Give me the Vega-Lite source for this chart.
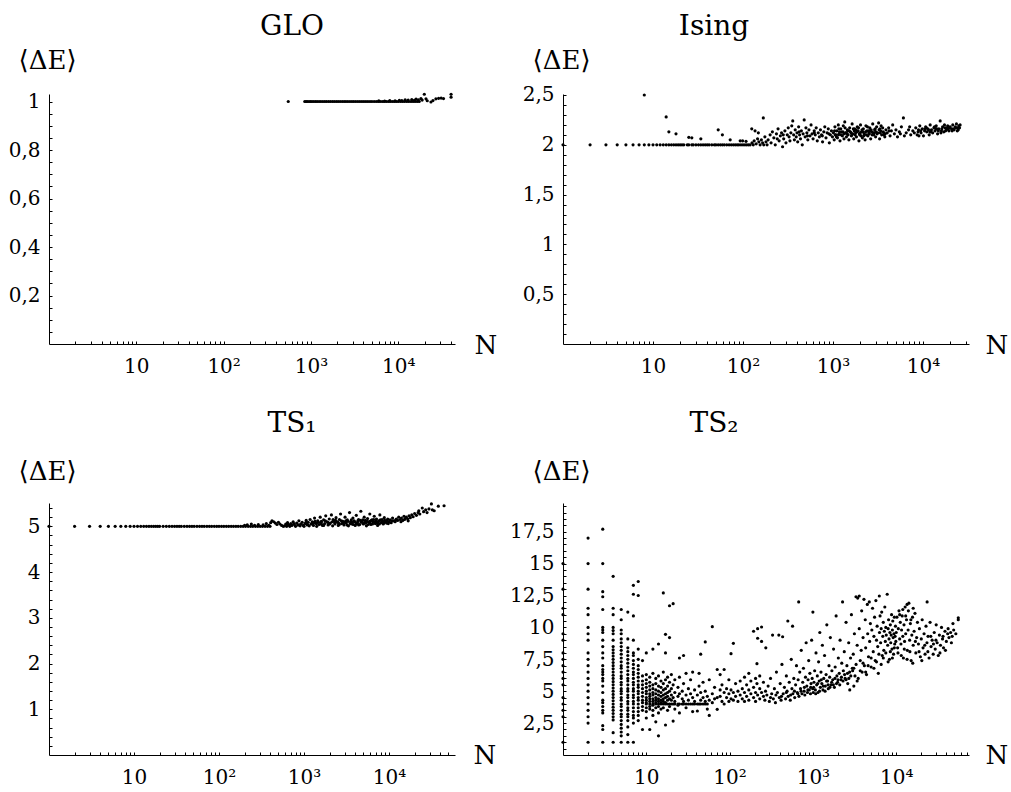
{
"$schema": "https://vega.github.io/schema/vega-lite/v6.json",
"padding": {"left": 8, "top": 13, "right": 5, "bottom": 5},
"autosize": {"type": "pad"},
"columns": 2,
"spacing": {"row": 159, "column": 108},
"bounds": "flush",
"config": {
  "font": "DejaVu Serif",
  "view": {"stroke": null},
  "axis": {"domainColor": "black", "tickColor": "black", "labelColor": "black", "titleColor": "black", "labelFont": "DejaVu Serif", "labelFontSize": 20, "titleFont": "DejaVu Serif", "titleFontSize": 26, "titleFontWeight": "normal", "grid": false, "labelOverlap": false, "labelFlush": false, "tickSize": -3, "domainWidth": 1, "tickWidth": 1, "labelPadding": 12},
  "axisX": {"titleAlign": "left", "titleBaseline": "alphabetic", "titleAngle": 0, "titleY": 9, "labelPadding": 15},
  "axisY": {"titleAlign": "center", "titleBaseline": "alphabetic", "titleAngle": 0, "titleX": -2, "titleY": -26, "labelBaseline": "middle"},
  "title": {"font": "DejaVu Serif", "fontSize": 28, "fontWeight": "normal", "color": "black", "frame": "group", "anchor": "middle", "offset": 6},
  "circle": {"size": 10, "color": "black", "opacity": 1}
},
"datasets": {
"glo": [{"n":550,"e":1},{"n":850,"e":1},{"n":880,"e":1},{"n":910,"e":1},{"n":950,"e":1},{"n":990,"e":1},{"n":1030,"e":1},{"n":1080,"e":1},{"n":1130,"e":1},{"n":1180,"e":1},{"n":1240,"e":1},{"n":1300,"e":1},{"n":1370,"e":1},{"n":1440,"e":1},{"n":1510,"e":1},{"n":1590,"e":1},{"n":1670,"e":1},{"n":1760,"e":1},{"n":1850,"e":1},{"n":1950,"e":1},{"n":2050,"e":1},{"n":2160,"e":1},{"n":2280,"e":1},{"n":2400,"e":1},{"n":2520,"e":1},{"n":2650,"e":1},{"n":2800,"e":1},{"n":2950,"e":1},{"n":3100,"e":1},{"n":3270,"e":1},{"n":3450,"e":1},{"n":3640,"e":1},{"n":3840,"e":1},{"n":4050,"e":1},{"n":4270,"e":1},{"n":4500,"e":1},{"n":4750,"e":1},{"n":5000,"e":1},{"n":5300,"e":1},{"n":5600,"e":1},{"n":5900,"e":1},{"n":6200,"e":1},{"n":6550,"e":1},{"n":6900,"e":1},{"n":7300,"e":1},{"n":7700,"e":1},{"n":8100,"e":1},{"n":8550,"e":1},{"n":9000,"e":1},{"n":9500,"e":1},{"n":10000,"e":1},{"n":10600,"e":1},{"n":11200,"e":1},{"n":11800,"e":1},{"n":12500,"e":1},{"n":13200,"e":1},{"n":14000,"e":1},{"n":14800,"e":1},{"n":15600,"e":1},{"n":16500,"e":1},{"n":17400,"e":1},{"n":6000,"e":1.003},{"n":7000,"e":1.002},{"n":8000,"e":1.004},{"n":9200,"e":1.003},{"n":10300,"e":1.005},{"n":11000,"e":1.004},{"n":12000,"e":1.007},{"n":13000,"e":1.006},{"n":14300,"e":1.008},{"n":15300,"e":1.005},{"n":16000,"e":1.01},{"n":17000,"e":1.007},{"n":18200,"e":1.012},{"n":18800,"e":1.006},{"n":19900,"e":1.03},{"n":20800,"e":1.011},{"n":21500,"e":1.003},{"n":23700,"e":0.998},{"n":25000,"e":1.004},{"n":27000,"e":1.011},{"n":29000,"e":1.013},{"n":31000,"e":1.014},{"n":33000,"e":1.012},{"n":40300,"e":1.03},{"n":40300,"e":1.018}],
"ising": [{"n":1,"e":2},{"n":2,"e":2},{"n":3,"e":2},{"n":4,"e":2},{"n":5,"e":2},{"n":6,"e":2},{"n":7,"e":2},{"n":8,"e":2},{"n":9,"e":2},{"n":10,"e":2},{"n":11,"e":2},{"n":12,"e":2},{"n":13,"e":2},{"n":14,"e":2},{"n":15,"e":2},{"n":16,"e":2},{"n":17,"e":2},{"n":18,"e":2},{"n":19,"e":2},{"n":20,"e":2},{"n":21,"e":2},{"n":22,"e":2},{"n":24,"e":2},{"n":25,"e":2},{"n":27,"e":2},{"n":28,"e":2},{"n":30,"e":2},{"n":32,"e":2},{"n":34,"e":2},{"n":36,"e":2},{"n":38,"e":2},{"n":40,"e":2},{"n":42,"e":2},{"n":45,"e":2},{"n":48,"e":2},{"n":50,"e":2},{"n":53,"e":2},{"n":56,"e":2},{"n":59,"e":2},{"n":62,"e":2},{"n":66,"e":2},{"n":70,"e":2},{"n":74,"e":2},{"n":78,"e":2},{"n":82,"e":2},{"n":86,"e":2},{"n":90,"e":2},{"n":95,"e":2},{"n":100,"e":2},{"n":105,"e":2},{"n":110,"e":2},{"n":115,"e":2},{"n":120,"e":2},
{"n":8,"e":2.5},{"n":14,"e":2.28},{"n":15,"e":2.13},{"n":18,"e":2.11},{"n":25,"e":2.075},{"n":27,"e":2.07},{"n":34,"e":2.06},{"n":53,"e":2.15},{"n":59,"e":2.1},{"n":72,"e":2.05},{"n":93,"e":2.04},{"n":99,"e":2.04},{"n":108,"e":2.035},{"n":125,"e":2.16},{"n":136,"e":2.14},{"n":148,"e":2.12},{"n":168,"e":2.27},
{"n":126,"e":2.02},{"n":130,"e":2},{"n":133,"e":2.04},{"n":140,"e":2.01},{"n":145,"e":2.06},{"n":150,"e":2.03},{"n":155,"e":2},{"n":160,"e":2.05},{"n":165,"e":2.02},{"n":170,"e":2},{"n":175,"e":2.08},{"n":180,"e":2.03},{"n":185,"e":2},
{"n":190,"e":2.05},{"n":200,"e":2.1},{"n":205,"e":2.02},{"n":212,"e":2.13},{"n":220,"e":2.07},{"n":228,"e":2},{"n":235,"e":2.11},{"n":245,"e":2.16},{"n":252,"e":2.04},{"n":260,"e":2.09},{"n":268,"e":2.12},{"n":275,"e":1.98},{"n":283,"e":2.06},{"n":292,"e":2.14},{"n":300,"e":2.02},{"n":310,"e":2.1},{"n":318,"e":2.17},
{"n":325,"e":2.08},{"n":332,"e":2.04},{"n":340,"e":2.12},{"n":348,"e":2.19},{"n":357,"e":2.24},{"n":365,"e":2.1},{"n":372,"e":2.05},{"n":380,"e":2.15},{"n":390,"e":2.08},{"n":398,"e":2.12},{"n":405,"e":2.03},{"n":415,"e":2.18},{"n":425,"e":2.1},{"n":435,"e":2.06},{"n":445,"e":2.14},{"n":455,"e":2},{"n":465,"e":2.11},{"n":478,"e":2.25},{"n":490,"e":2.08},{"n":500,"e":2.17},{"n":512,"e":2.12},{"n":525,"e":2.05},{"n":540,"e":2.15},{"n":555,"e":2.09},{"n":570,"e":2.2},{"n":585,"e":2.11},{"n":600,"e":2.06},{"n":618,"e":2.14},{"n":635,"e":2.1},{"n":650,"e":2.17},{"n":668,"e":2.04},{"n":685,"e":2.12},{"n":705,"e":2.08},{"n":725,"e":2.15},{"n":745,"e":2.1},{"n":765,"e":2.03},{"n":790,"e":2.13},{"n":810,"e":2.18},{"n":835,"e":2.07},{"n":860,"e":2.12},{"n":885,"e":2.16},{"n":910,"e":2.02},{"n":935,"e":2.1},{"n":960,"e":2.14},{"n":985,"e":2.08},
{"n":1010,"e":2.12},{"n":1030,"e":2.05},{"n":1050,"e":2.18},{"n":1075,"e":2.1},{"n":1100,"e":2.14},{"n":1120,"e":2.07},{"n":1145,"e":2.2},{"n":1170,"e":2.11},{"n":1195,"e":2.04},{"n":1220,"e":2.16},{"n":1245,"e":2.13},{"n":1270,"e":2.09},{"n":1300,"e":2.19},{"n":1325,"e":2.06},{"n":1350,"e":2.23},{"n":1380,"e":2.12},{"n":1410,"e":2.08},{"n":1440,"e":2.15},{"n":1470,"e":2.1},{"n":1500,"e":2.05},{"n":1530,"e":2.17},{"n":1560,"e":2.13},{"n":1600,"e":2.09},{"n":1630,"e":2.21},{"n":1660,"e":2.11},{"n":1700,"e":2.06},{"n":1740,"e":2.16},{"n":1780,"e":2.12},{"n":1820,"e":2.08},{"n":1860,"e":2.18},{"n":1900,"e":2.14},{"n":1940,"e":2.04},{"n":1980,"e":2.1},{"n":2020,"e":2.2},{"n":2070,"e":2.13},{"n":2120,"e":2.07},{"n":2170,"e":2.16},{"n":2220,"e":2.11},{"n":2270,"e":2.05},{"n":2320,"e":2.19},{"n":2380,"e":2.14},{"n":2440,"e":2.09},{"n":2500,"e":2.12},{"n":2560,"e":2.17},{"n":2620,"e":2.06},{"n":2690,"e":2.13},{"n":2760,"e":2.21},{"n":2830,"e":2.1},{"n":2900,"e":2.15},{"n":2970,"e":2.08},{"n":3050,"e":2.18},{"n":3130,"e":2.12},{"n":3210,"e":2.22},{"n":3290,"e":2.06},{"n":3380,"e":2.14},{"n":3470,"e":2.1},{"n":3560,"e":2.17},{"n":3660,"e":2.12},{"n":3760,"e":2.08},{"n":3870,"e":2.15},
{"n":1040,"e":2.14},{"n":1090,"e":2.08},{"n":1160,"e":2.16},{"n":1230,"e":2.1},{"n":1290,"e":2.13},{"n":1360,"e":2.17},{"n":1430,"e":2.11},{"n":1510,"e":2.14},{"n":1590,"e":2.12},{"n":1680,"e":2.16},{"n":1760,"e":2.1},{"n":1840,"e":2.13},{"n":1920,"e":2.17},{"n":2000,"e":2.12},{"n":2100,"e":2.15},{"n":2200,"e":2.09},{"n":2300,"e":2.13},{"n":2410,"e":2.18},{"n":2530,"e":2.11},{"n":2650,"e":2.15},{"n":2790,"e":2.12},{"n":2940,"e":2.16},{"n":3090,"e":2.11},{"n":3250,"e":2.15},{"n":3420,"e":2.19},{"n":3600,"e":2.13},{"n":3800,"e":2.11},
{"n":4000,"e":2.12},{"n":4150,"e":2.17},{"n":4300,"e":2.09},{"n":4450,"e":2.14},{"n":4600,"e":2.2},{"n":4800,"e":2.11},{"n":5000,"e":2.15},{"n":5200,"e":2.08},{"n":5450,"e":2.13},{"n":5750,"e":2.18},{"n":6050,"e":2.27},{"n":6200,"e":2.09},{"n":6500,"e":2.12},{"n":6900,"e":2.15},{"n":7300,"e":2.1},{"n":7700,"e":2.14},
{"n":8000,"e":2.12},{"n":8300,"e":2.17},{"n":8600,"e":2.1},{"n":8900,"e":2.15},{"n":9200,"e":2.19},{"n":9500,"e":2.12},{"n":9800,"e":2.16},{"n":10100,"e":2.09},{"n":10400,"e":2.14},{"n":10700,"e":2.18},{"n":11000,"e":2.13},{"n":11300,"e":2.16},{"n":11700,"e":2.1},{"n":12000,"e":2.2},{"n":12400,"e":2.15},{"n":12800,"e":2.12},{"n":13200,"e":2.17},{"n":13600,"e":2.14},{"n":14000,"e":2.19},{"n":14500,"e":2.11},{"n":15000,"e":2.16},{"n":15500,"e":2.24},{"n":16000,"e":2.14},{"n":16500,"e":2.18},{"n":17000,"e":2.13},{"n":17600,"e":2.17},{"n":18200,"e":2.15},{"n":18800,"e":2.19},{"n":19400,"e":2.14},{"n":20000,"e":2.18},{"n":20700,"e":2.16},{"n":21400,"e":2.2},{"n":22100,"e":2.15},{"n":22800,"e":2.18},{"n":23500,"e":2.21},{"n":24200,"e":2.17},{"n":25000,"e":2.19},{"n":25800,"e":2.2},{"n":9000,"e":2.09},{"n":10900,"e":2.17},{"n":12200,"e":2.13},{"n":13900,"e":2.16},{"n":15800,"e":2.12},{"n":17300,"e":2.2},{"n":19000,"e":2.16},{"n":21000,"e":2.14},{"n":23000,"e":2.17},
{"n":240,"e":2.06},{"n":280,"e":2.1},{"n":420,"e":2.13},{"n":520,"e":2.09},{"n":620,"e":2.12},{"n":760,"e":2.09},{"n":900,"e":2.11},{"n":1150,"e":2.1},{"n":1400,"e":2.12},{"n":1720,"e":2.14},{"n":2050,"e":2.09},{"n":2480,"e":2.14},{"n":2880,"e":2.12},{"n":3350,"e":2.12},{"n":4200,"e":2.14},{"n":5600,"e":2.11},{"n":7100,"e":2.18},{"n":8800,"e":2.13},{"n":11500,"e":2.15},{"n":14200,"e":2.16},{"n":18500,"e":2.17},{"n":24600,"e":2.15},
{"n":1060,"e":2.1},{"n":1180,"e":2.13},{"n":1320,"e":2.11},{"n":1460,"e":2.14},{"n":1620,"e":2.1},{"n":1800,"e":2.15},{"n":1960,"e":2.11},{"n":2150,"e":2.13},{"n":2350,"e":2.1},{"n":2580,"e":2.14},{"n":2720,"e":2.1},{"n":3000,"e":2.13},{"n":3320,"e":2.16},{"n":3700,"e":2.1},{"n":9400,"e":2.14},{"n":10500,"e":2.16},{"n":11900,"e":2.13},{"n":13400,"e":2.18},{"n":14800,"e":2.14},{"n":16200,"e":2.16},{"n":17800,"e":2.14},{"n":19700,"e":2.17},{"n":21700,"e":2.16},{"n":24000,"e":2.14},{"n":25400,"e":2.17}],
"ts1": [{"n":1,"e":5},{"n":2,"e":5},{"n":3,"e":5},{"n":4,"e":5},{"n":5,"e":5},{"n":6,"e":5},{"n":7,"e":5},{"n":8,"e":5},{"n":9,"e":5},{"n":10,"e":5},{"n":11,"e":5},{"n":12,"e":5},{"n":13,"e":5},{"n":14,"e":5},{"n":15,"e":5},{"n":16,"e":5},{"n":17,"e":5},{"n":18,"e":5},{"n":19,"e":5},{"n":20,"e":5},{"n":22,"e":5},{"n":24,"e":5},{"n":26,"e":5},{"n":28,"e":5},{"n":30,"e":5},{"n":32,"e":5},{"n":34,"e":5},{"n":36,"e":5},{"n":39,"e":5},{"n":42,"e":5},{"n":45,"e":5},{"n":48,"e":5},{"n":51,"e":5},{"n":55,"e":5},{"n":59,"e":5},{"n":63,"e":5},{"n":67,"e":5},{"n":72,"e":5},{"n":77,"e":5},{"n":82,"e":5},{"n":88,"e":5},{"n":94,"e":5},{"n":100,"e":5},{"n":107,"e":5},{"n":114,"e":5},{"n":122,"e":5},{"n":130,"e":5},{"n":139,"e":5},{"n":148,"e":5},{"n":158,"e":5},{"n":168,"e":5},{"n":180,"e":5},{"n":192,"e":5},{"n":205,"e":5},{"n":220,"e":5},{"n":235,"e":5},{"n":250,"e":5},{"n":268,"e":5},{"n":286,"e":5},{"n":305,"e":5},{"n":325,"e":5},{"n":348,"e":5},{"n":372,"e":5},{"n":398,"e":5},
{"n":200,"e":5.02},{"n":215,"e":5.03},{"n":240,"e":5.05},{"n":262,"e":5.02},{"n":290,"e":5.04},{"n":330,"e":5.03},{"n":360,"e":5.06},{"n":385,"e":5.02},{"n":405,"e":5.08},{"n":420,"e":5.12},{"n":440,"e":5.1},{"n":460,"e":5.07},{"n":480,"e":5.04},{"n":500,"e":5.09},{"n":520,"e":5.05},{"n":545,"e":5.02},{"n":570,"e":5},
{"n":590,"e":5.01},{"n":610,"e":5.05},{"n":625,"e":5},{"n":640,"e":5.08},{"n":660,"e":5.03},{"n":680,"e":5},{"n":700,"e":5.06},{"n":720,"e":5.02},{"n":745,"e":5.1},{"n":770,"e":5.04},{"n":795,"e":5},{"n":820,"e":5.07},{"n":845,"e":5.03},{"n":870,"e":5.12},{"n":900,"e":5.01},{"n":925,"e":5.05},{"n":950,"e":5.09},{"n":980,"e":5.02},
{"n":1000,"e":5},{"n":1030,"e":5.06},{"n":1060,"e":5.13},{"n":1090,"e":5.03},{"n":1120,"e":5.09},{"n":1150,"e":5.01},{"n":1180,"e":5.15},{"n":1210,"e":5.05},{"n":1250,"e":5.1},{"n":1290,"e":5.02},{"n":1330,"e":5.18},{"n":1370,"e":5.07},{"n":1410,"e":5},{"n":1450,"e":5.12},{"n":1500,"e":5.04},{"n":1550,"e":5.2},{"n":1600,"e":5.08},{"n":1650,"e":5.02},{"n":1700,"e":5.14},{"n":1750,"e":5.06},{"n":1800,"e":5.23},{"n":1860,"e":5.1},{"n":1920,"e":5.03},{"n":1980,"e":5.16},{"n":2040,"e":5.07},{"n":2100,"e":5.25},{"n":2170,"e":5.01},{"n":2240,"e":5.12},{"n":2310,"e":5.05},{"n":2380,"e":5.19},{"n":2450,"e":5.09},{"n":2530,"e":5.02},{"n":2610,"e":5.15},{"n":2690,"e":5.27},{"n":2770,"e":5.06},{"n":2860,"e":5.11},{"n":2950,"e":5.03},
{"n":3040,"e":5.2},{"n":3130,"e":5.08},{"n":3230,"e":5.14},{"n":3330,"e":5.01},{"n":3430,"e":5.3},{"n":3540,"e":5.1},{"n":3650,"e":5.05},{"n":3760,"e":5.18},{"n":3880,"e":5.12},{"n":4000,"e":5.02},{"n":4120,"e":5.24},{"n":4250,"e":5.08},{"n":4380,"e":5.15},{"n":4520,"e":5.04},{"n":4660,"e":5.33},{"n":4800,"e":5.11},{"n":4950,"e":5.06},{"n":5100,"e":5.2},{"n":5260,"e":5.13},{"n":5420,"e":5.01},{"n":5590,"e":5.17},{"n":5760,"e":5.09},{"n":5940,"e":5.27},{"n":6120,"e":5.04},{"n":6310,"e":5.14},{"n":6500,"e":5.1},{"n":6700,"e":5.22},{"n":6900,"e":5.06},{"n":7120,"e":5.16},{"n":7340,"e":5.02},{"n":7560,"e":5.12},{"n":7800,"e":5.25},{"n":8040,"e":5.08},{"n":8290,"e":5.15},{"n":8540,"e":5.05},{"n":8800,"e":5.19},{"n":9080,"e":5.11},{"n":9360,"e":5.07},{"n":9650,"e":5.16},{"n":9950,"e":5.1},
{"n":1100,"e":5.04},{"n":1400,"e":5.06},{"n":1700,"e":5.02},{"n":2000,"e":5.05},{"n":2300,"e":5.08},{"n":2600,"e":5.04},{"n":2900,"e":5.07},{"n":3200,"e":5.03},{"n":3500,"e":5.06},{"n":3800,"e":5.04},{"n":4100,"e":5.07},{"n":4400,"e":5.03},{"n":4700,"e":5.09},{"n":5000,"e":5.05},{"n":5300,"e":5.07},{"n":5700,"e":5.04},{"n":6000,"e":5.08},{"n":6400,"e":5.05},{"n":6800,"e":5.09},{"n":7200,"e":5.07},{"n":7700,"e":5.05},{"n":8200,"e":5.09},{"n":8700,"e":5.07},{"n":9200,"e":5.1},{"n":9800,"e":5.06},{"n":3100,"e":5.12},{"n":3700,"e":5.09},{"n":4300,"e":5.12},{"n":4900,"e":5.14},{"n":5500,"e":5.11},{"n":6200,"e":5.13},{"n":7000,"e":5.12},{"n":7900,"e":5.14},{"n":8900,"e":5.13},{"n":2500,"e":5.1},{"n":2200,"e":5.15},{"n":1900,"e":5.09},{"n":1600,"e":5.11},{"n":1300,"e":5.08},
{"n":650,"e":5.04},{"n":760,"e":5.06},{"n":880,"e":5.03},{"n":1050,"e":5.08},{"n":1230,"e":5.06},{"n":1350,"e":5.11},{"n":1480,"e":5.09},{"n":1580,"e":5.05},{"n":1780,"e":5.12},{"n":1950,"e":5.07},{"n":2150,"e":5.1},{"n":2350,"e":5.13},{"n":2550,"e":5.07},{"n":2750,"e":5.12},{"n":3000,"e":5.09},{"n":3300,"e":5.11},{"n":3600,"e":5.14},{"n":3950,"e":5.1},{"n":4200,"e":5.05},{"n":4600,"e":5.13},{"n":5200,"e":5.09},{"n":5900,"e":5.11},{"n":6600,"e":5.15},{"n":7400,"e":5.09},{"n":8400,"e":5.11},{"n":9500,"e":5.13},{"n":10800,"e":5.12},{"n":12000,"e":5.14},{"n":13800,"e":5.1},{"n":15200,"e":5.15},{"n":16800,"e":5.12},
{"n":10300,"e":5.14},{"n":10600,"e":5.08},{"n":11000,"e":5.18},{"n":11400,"e":5.12},{"n":11800,"e":5.1},{"n":12200,"e":5.16},{"n":12600,"e":5.13},{"n":13000,"e":5.2},{"n":13500,"e":5.15},{"n":14000,"e":5.18},{"n":14500,"e":5.13},{"n":15000,"e":5.22},{"n":15500,"e":5.17},{"n":16000,"e":5.2},{"n":16600,"e":5.16},{"n":17200,"e":5.23},{"n":17800,"e":5.19},
{"n":18500,"e":5.25},{"n":19200,"e":5.21},{"n":20000,"e":5.28},{"n":21000,"e":5.24},{"n":22000,"e":5.3},{"n":22400,"e":5.34},{"n":23000,"e":5.27},{"n":24600,"e":5.4},{"n":25500,"e":5.32},{"n":27000,"e":5.36},{"n":28000,"e":5.3},{"n":29500,"e":5.38},{"n":31500,"e":5.49},{"n":32300,"e":5.36},{"n":34000,"e":5.34},{"n":38000,"e":5.44},{"n":44400,"e":5.45}],
"ts2": [{"n":1,"e":15},{"n":1,"e":13},{"n":1,"e":11.5},{"n":1,"e":11},{"n":1,"e":9.5},{"n":1,"e":9},{"n":1,"e":8},{"n":1,"e":7.5},{"n":1,"e":7},{"n":1,"e":6.5},{"n":1,"e":6},{"n":1,"e":5.5},{"n":1,"e":4.5},{"n":1,"e":4},{"n":1,"e":3.5},{"n":1,"e":3},{"n":1,"e":1},
{"n":2,"e":17},{"n":2,"e":15},{"n":2,"e":13},{"n":2,"e":11.5},{"n":2,"e":11},{"n":2,"e":10},{"n":2,"e":9.5},{"n":2,"e":9},{"n":2,"e":8},{"n":2,"e":7.5},{"n":2,"e":7},{"n":2,"e":6.5},{"n":2,"e":6},{"n":2,"e":5.5},{"n":2,"e":5},{"n":2,"e":4.5},{"n":2,"e":4},{"n":2,"e":3.5},{"n":2,"e":3},{"n":2,"e":2.5},{"n":2,"e":1},
{"n":3,"e":17.7},{"n":3,"e":15},{"n":3,"e":12.8},{"n":3,"e":12.4},{"n":3,"e":11.4},{"n":3,"e":10},{"n":3,"e":9.8},{"n":3,"e":9.6},{"n":3,"e":9},{"n":3,"e":8.5},{"n":3,"e":8},{"n":3,"e":7.6},{"n":3,"e":7},{"n":3,"e":6.7},{"n":3,"e":6.5},{"n":3,"e":6.3},{"n":3,"e":6},{"n":3,"e":5.8},{"n":3,"e":5.4},{"n":3,"e":4.9},{"n":3,"e":4.3},{"n":3,"e":4.1},{"n":3,"e":3.8},{"n":3,"e":3.5},{"n":3,"e":3.3},{"n":3,"e":2.3},{"n":3,"e":2},{"n":3,"e":1},
{"n":4,"e":14},{"n":4,"e":11.5},{"n":4,"e":11},{"n":4,"e":10},{"n":4,"e":9.75},{"n":4,"e":9.5},{"n":4,"e":9},{"n":4,"e":8.5},{"n":4,"e":8.25},{"n":4,"e":8},{"n":4,"e":7.75},{"n":4,"e":7.5},{"n":4,"e":7.25},{"n":4,"e":7},{"n":4,"e":6.75},{"n":4,"e":6.5},{"n":4,"e":6.25},{"n":4,"e":6},{"n":4,"e":5.75},{"n":4,"e":5.5},{"n":4,"e":5.25},{"n":4,"e":5},{"n":4,"e":4.75},{"n":4,"e":4.5},{"n":4,"e":4.25},{"n":4,"e":4},{"n":4,"e":3.75},{"n":4,"e":3.5},{"n":4,"e":3.25},{"n":4,"e":3},{"n":4,"e":2.75},{"n":4,"e":1.75},{"n":4,"e":1},
{"n":5,"e":11.4},{"n":5,"e":10.6},{"n":5,"e":9.8},{"n":5,"e":9.5},{"n":5,"e":9.1},{"n":5,"e":8.8},{"n":5,"e":8.5},{"n":5,"e":8.2},{"n":5,"e":7.9},{"n":5,"e":7.6},{"n":5,"e":7.3},{"n":5,"e":7},{"n":5,"e":6.8},{"n":5,"e":6.5},{"n":5,"e":6.2},{"n":5,"e":6},{"n":5,"e":5.7},{"n":5,"e":5.5},{"n":5,"e":5.2},{"n":5,"e":5},{"n":5,"e":4.8},{"n":5,"e":4.5},{"n":5,"e":4.3},{"n":5,"e":4},{"n":5,"e":3.8},{"n":5,"e":3.5},{"n":5,"e":3.2},{"n":5,"e":3},{"n":5,"e":2.7},{"n":5,"e":2.4},{"n":5,"e":2.1},{"n":5,"e":1.8},{"n":5,"e":1.5},{"n":5,"e":1},
{"n":6,"e":11.2},{"n":6,"e":9.1},{"n":6,"e":8.4},{"n":6,"e":8.1},{"n":6,"e":7.8},{"n":6,"e":7.5},{"n":6,"e":7.2},{"n":6,"e":6.9},{"n":6,"e":6.6},{"n":6,"e":6.3},{"n":6,"e":6},{"n":6,"e":5.8},{"n":6,"e":5.5},{"n":6,"e":5.2},{"n":6,"e":5},{"n":6,"e":4.7},{"n":6,"e":4.5},{"n":6,"e":4.2},{"n":6,"e":4},{"n":6,"e":3.7},{"n":6,"e":3.5},{"n":6,"e":3.2},{"n":6,"e":3},{"n":6,"e":2.7},{"n":6,"e":2.2},{"n":6,"e":1.6},{"n":6,"e":1},
{"n":7,"e":13.3},{"n":7,"e":12.6},{"n":7,"e":10.9},{"n":7,"e":9},{"n":7,"e":8},{"n":7,"e":7.8},{"n":7,"e":7.4},{"n":7,"e":7.1},{"n":7,"e":6.8},{"n":7,"e":6.5},{"n":7,"e":6.3},{"n":7,"e":6},{"n":7,"e":5.7},{"n":7,"e":5.5},{"n":7,"e":5.2},{"n":7,"e":5},{"n":7,"e":4.7},{"n":7,"e":4.5},{"n":7,"e":4.2},{"n":7,"e":4},{"n":7,"e":3.7},{"n":7,"e":3.4},{"n":7,"e":3.1},{"n":7,"e":2.9},{"n":7,"e":2.5},{"n":7,"e":1},
{"n":8,"e":13.6},{"n":8,"e":12.5},{"n":8,"e":8.3},{"n":8,"e":7.5},{"n":8,"e":7},{"n":8,"e":6.7},{"n":8,"e":6.4},{"n":8,"e":6.1},{"n":8,"e":5.8},{"n":8,"e":5.5},{"n":8,"e":5.3},{"n":8,"e":5},{"n":8,"e":4.8},{"n":8,"e":4.5},{"n":8,"e":4.3},{"n":8,"e":4},{"n":8,"e":3.7},{"n":8,"e":3.4},{"n":8,"e":3.1},{"n":8,"e":2.7},
{"n":9,"e":7.4},{"n":9,"e":6.2},{"n":9,"e":5.8},{"n":9,"e":5.5},{"n":9,"e":5.2},{"n":9,"e":4.9},{"n":9,"e":4.6},{"n":9,"e":4.3},{"n":9,"e":4.1},{"n":9,"e":3.8},{"n":9,"e":3.5},{"n":9,"e":2},
{"n":10,"e":8},{"n":10,"e":6.3},{"n":10,"e":5.9},{"n":10,"e":5.6},{"n":10,"e":5.3},{"n":10,"e":5},{"n":10,"e":4.8},{"n":10,"e":4.5},{"n":10,"e":4.3},{"n":10,"e":4.1},{"n":10,"e":4},{"n":10,"e":3.7},{"n":10,"e":3.4},{"n":10,"e":2.9},
{"n":11,"e":6.1},{"n":11,"e":5.7},{"n":11,"e":5.4},{"n":11,"e":5.1},{"n":11,"e":4.8},{"n":11,"e":4.6},{"n":11,"e":4.4},{"n":11,"e":4.2},{"n":11,"e":4},{"n":11,"e":3.8},{"n":11,"e":3.6},{"n":11,"e":2},
{"n":12,"e":8.3},{"n":12,"e":6.4},{"n":12,"e":5.5},{"n":12,"e":5.2},{"n":12,"e":4.9},{"n":12,"e":4.7},{"n":12,"e":4.4},{"n":12,"e":4.2},{"n":12,"e":4},{"n":12,"e":3.9},{"n":12,"e":3.5},{"n":12,"e":3.1},
{"n":13,"e":6},{"n":13,"e":5.6},{"n":13,"e":5.1},{"n":13,"e":4.8},{"n":13,"e":4.5},{"n":13,"e":4.3},{"n":13,"e":4.1},{"n":13,"e":4},{"n":13,"e":3.7},{"n":13,"e":2.6},
{"n":14,"e":8.7},{"n":14,"e":6.2},{"n":14,"e":5.4},{"n":14,"e":5},{"n":14,"e":4.7},{"n":14,"e":4.4},{"n":14,"e":4.2},{"n":14,"e":4},{"n":14,"e":3.8},{"n":14,"e":3.3},{"n":14,"e":1.5},
{"n":15,"e":5.8},{"n":15,"e":5.3},{"n":15,"e":4.9},{"n":15,"e":4.6},{"n":15,"e":4.3},{"n":15,"e":4.1},{"n":15,"e":4},{"n":15,"e":3.6},
{"n":16,"e":12.7},{"n":16,"e":6.5},{"n":16,"e":5.6},{"n":16,"e":5.1},{"n":16,"e":4.7},{"n":16,"e":4.4},{"n":16,"e":4.2},{"n":16,"e":4},{"n":16,"e":3.7},
{"n":17,"e":9.46},{"n":17,"e":8},{"n":17,"e":5.9},{"n":17,"e":5.2},{"n":17,"e":4.8},{"n":17,"e":4.5},{"n":17,"e":4.1},{"n":17,"e":4},{"n":17,"e":2.35},
{"n":18,"e":6.1},{"n":18,"e":5.4},{"n":18,"e":4.9},{"n":18,"e":4.6},{"n":18,"e":4.3},{"n":18,"e":4},{"n":18,"e":3.5},
{"n":19,"e":11.7},{"n":19,"e":9.2},{"n":19,"e":5.7},{"n":19,"e":5},{"n":19,"e":4.4},{"n":19,"e":4},{"n":19,"e":3.8},
{"n":20,"e":6.3},{"n":20,"e":5.2},{"n":20,"e":4.7},{"n":20,"e":4.3},{"n":20,"e":4},
{"n":21,"e":11.86},{"n":21,"e":5.5},{"n":21,"e":4.5},{"n":21,"e":4},{"n":21,"e":2.66},
{"n":22,"e":5.9},{"n":22,"e":4.9},{"n":22,"e":4.2},{"n":22,"e":4},{"n":22,"e":3.6},
{"n":24,"e":5.3},{"n":24,"e":4.6},{"n":24,"e":4},{"n":24,"e":3.9},
{"n":25,"e":7.6},{"n":25,"e":6.1},{"n":25,"e":4.8},{"n":25,"e":4},{"n":25,"e":3.3},
{"n":27,"e":5},{"n":27,"e":4.4},{"n":27,"e":4},
{"n":28,"e":7.8},{"n":28,"e":5.6},{"n":28,"e":4.2},{"n":28,"e":4},
{"n":30,"e":6.4},{"n":30,"e":4.7},{"n":30,"e":4},{"n":30,"e":3.7},
{"n":32,"e":5.2},{"n":32,"e":4.3},{"n":32,"e":4},
{"n":34,"e":5.9},{"n":34,"e":4.8},{"n":34,"e":4},
{"n":36,"e":6.5},{"n":36,"e":4.5},{"n":36,"e":4},{"n":36,"e":3.4},
{"n":38,"e":5.1},{"n":38,"e":4.2},{"n":38,"e":4},
{"n":41,"e":4.7},{"n":41,"e":4},{"n":41,"e":3.45},
{"n":43,"e":6.4},{"n":43,"e":5.4},{"n":43,"e":4},
{"n":45,"e":7.9},{"n":45,"e":4.9},{"n":45,"e":4.3},{"n":45,"e":4},
{"n":48,"e":5.7},{"n":48,"e":4.5},{"n":48,"e":4},
{"n":51,"e":8.86},{"n":51,"e":5},{"n":51,"e":4.2},{"n":51,"e":4},
{"n":54,"e":4.6},{"n":54,"e":4},{"n":54,"e":3.6},
{"n":57,"e":5.9},{"n":57,"e":4.3},{"n":57,"e":3.1},
{"n":62,"e":10.06},{"n":62,"e":4.8},{"n":62,"e":4.1},
{"n":66,"e":5.3},{"n":66,"e":4.4},
{"n":71,"e":6.7},{"n":71,"e":4.5},{"n":71,"e":3.58},
{"n":77,"e":6.3},{"n":77,"e":5.1},{"n":77,"e":4.6},
{"n":81,"e":5.5},{"n":81,"e":4.2},
{"n":86,"e":6.7},{"n":86,"e":4.9},{"n":86,"e":4},
{"n":92,"e":5.2},{"n":92,"e":4.5},
{"n":98,"e":5.9},{"n":98,"e":4.8},{"n":98,"e":4.2},
{"n":104,"e":7.94},{"n":104,"e":5.1},{"n":104,"e":4.4},
{"n":111,"e":8.75},{"n":111,"e":4.9},{"n":111,"e":4.3},
{"n":118,"e":5.6},{"n":118,"e":4.6},
{"n":126,"e":5},{"n":126,"e":4.2},
{"n":134,"e":5.8},{"n":134,"e":4.7},
{"n":142,"e":5.2},{"n":142,"e":4.4},
{"n":151,"e":6.1},{"n":151,"e":4.9},{"n":151,"e":4.2},
{"n":160,"e":5.5},{"n":160,"e":4.6},
{"n":170,"e":6.4},{"n":170,"e":5.1},{"n":170,"e":4.3},
{"n":180,"e":5.8},{"n":180,"e":4.8},
{"n":194,"e":9.7},{"n":194,"e":5.3},{"n":194,"e":4.5},
{"n":205,"e":6},{"n":205,"e":4.9},{"n":205,"e":4.2},
{"n":213,"e":7.16},{"n":213,"e":5.6},
{"n":217,"e":9.9},{"n":217,"e":9.15},{"n":217,"e":4.7},
{"n":230,"e":6.2},{"n":230,"e":5.2},{"n":230,"e":4.4},
{"n":242,"e":10.03},{"n":242,"e":8.9},{"n":242,"e":4.9},
{"n":255,"e":5.7},{"n":255,"e":4.6},
{"n":265,"e":4.3},{"n":270,"e":5},{"n":272,"e":8.4},{"n":280,"e":4.7},{"n":290,"e":5.4},{"n":300,"e":4.2},{"n":310,"e":6},{"n":320,"e":4.8},{"n":328,"e":9.4},{"n":335,"e":4.4},{"n":345,"e":5.2},{"n":355,"e":4.1},{"n":365,"e":6.5},{"n":375,"e":4.9},{"n":390,"e":9.4},{"n":395,"e":4.5},{"n":405,"e":5.6},{"n":415,"e":4.3},{"n":425,"e":7.1},{"n":433,"e":9.27},{"n":440,"e":4.8},{"n":455,"e":5.3},{"n":470,"e":4.4},{"n":480,"e":6.2},{"n":490,"e":5},{"n":500,"e":10.5},{"n":505,"e":4.6},{"n":520,"e":5.7},{"n":535,"e":4.3},{"n":550,"e":7.5},{"n":560,"e":5.2},{"n":570,"e":10.1},{"n":575,"e":4.8},{"n":590,"e":6},{"n":605,"e":4.5},{"n":620,"e":5.5},{"n":635,"e":7},{"n":650,"e":4.9},{"n":665,"e":5.9},{"n":675,"e":12},{"n":680,"e":4.6},{"n":695,"e":6.5},{"n":710,"e":5.2},{"n":725,"e":8.2},{"n":740,"e":4.8},{"n":755,"e":5.7},{"n":770,"e":6.8},{"n":785,"e":5},{"n":800,"e":4.7},{"n":815,"e":6.1},{"n":830,"e":8.8},{"n":845,"e":5.4},{"n":860,"e":4.9},{"n":875,"e":5.9},{"n":890,"e":7.4},{"n":905,"e":5.1},{"n":920,"e":6.4},{"n":935,"e":4.8},{"n":950,"e":5.6},{"n":965,"e":9},{"n":980,"e":6},{"n":995,"e":5.2},
{"n":310,"e":4.5},{"n":360,"e":4.7},{"n":420,"e":4.6},{"n":480,"e":4.9},{"n":540,"e":4.7},{"n":600,"e":5},{"n":660,"e":4.8},{"n":720,"e":5},{"n":790,"e":5.3},{"n":870,"e":5.1},{"n":940,"e":5.3},
{"n":1000,"e":11.2},{"n":1010,"e":4.9},{"n":1030,"e":5.7},{"n":1050,"e":6.6},{"n":1070,"e":5.1},{"n":1090,"e":8},{"n":1110,"e":5.5},{"n":1130,"e":6.2},{"n":1150,"e":4.9},{"n":1170,"e":7.3},{"n":1190,"e":5.8},{"n":1210,"e":9.6},{"n":1230,"e":5.3},{"n":1250,"e":6.5},{"n":1280,"e":5.6},{"n":1300,"e":8.6},{"n":1320,"e":5.1},{"n":1350,"e":6},{"n":1380,"e":7.8},{"n":1410,"e":5.4},{"n":1440,"e":6.3},{"n":1470,"e":10.2},{"n":1500,"e":5.8},{"n":1530,"e":5.2},{"n":1560,"e":7},{"n":1590,"e":6.1},{"n":1620,"e":9.2},{"n":1650,"e":5.5},{"n":1690,"e":6.6},{"n":1730,"e":5.9},{"n":1770,"e":8.3},{"n":1810,"e":5.3},{"n":1850,"e":6.9},{"n":1900,"e":10.9},{"n":1940,"e":6.2},{"n":1980,"e":5.7},{"n":2020,"e":7.6},{"n":2070,"e":6.4},{"n":2120,"e":9},{"n":2170,"e":5.9},{"n":2220,"e":7.2},{"n":2270,"e":12},{"n":2320,"e":6.6},{"n":2380,"e":8.1},{"n":2440,"e":6},{"n":2500,"e":10.4},{"n":2560,"e":7},{"n":2620,"e":5.6},{"n":2690,"e":8.8},{"n":2760,"e":6.5},{"n":2770,"e":5.1},{"n":2830,"e":7.6},{"n":2900,"e":11},{"n":2970,"e":6.8},
{"n":1020,"e":5.3},{"n":1080,"e":4.8},{"n":1140,"e":5.6},{"n":1200,"e":5},{"n":1260,"e":5.9},{"n":1330,"e":5.4},{"n":1400,"e":5},{"n":1460,"e":5.8},{"n":1520,"e":5.5},{"n":1600,"e":5.3},{"n":1680,"e":5.7},{"n":1760,"e":5.5},{"n":1840,"e":6},{"n":1920,"e":5.6},{"n":2000,"e":5.9},{"n":2100,"e":5.5},{"n":2200,"e":6.1},{"n":2300,"e":5.8},{"n":2400,"e":6.3},{"n":2500,"e":5.9},{"n":2600,"e":6.4},{"n":2700,"e":6},{"n":2850,"e":6.2},{"n":3000,"e":6.6},
{"n":3050,"e":7.9},{"n":3100,"e":5.4},{"n":3150,"e":9.5},{"n":3200,"e":6.2},{"n":3290,"e":12.4},{"n":3300,"e":7.1},{"n":3400,"e":8.6},{"n":3450,"e":12.3},{"n":3500,"e":6},{"n":3600,"e":12.46},{"n":3600,"e":9.9},{"n":3700,"e":7.4},{"n":3800,"e":8.2},{"n":3850,"e":11.3},{"n":3900,"e":6.5},{"n":4000,"e":9.2},{"n":4100,"e":12.2},{"n":4150,"e":7},{"n":4250,"e":10.6},{"n":4300,"e":8.4},{"n":4400,"e":6.3},{"n":4500,"e":11.8},{"n":4550,"e":9.5},{"n":4650,"e":7.7},{"n":4750,"e":12},{"n":4800,"e":8.9},{"n":4900,"e":10.3},{"n":5000,"e":6.9},{"n":5100,"e":9.8},{"n":5200,"e":11.5},{"n":5300,"e":8.1},{"n":5400,"e":9.3},{"n":5500,"e":10.8},{"n":5600,"e":7.4},{"n":5700,"e":12.1},{"n":5800,"e":9},{"n":5900,"e":10.1},{"n":6000,"e":8.5},{"n":6100,"e":6.4},{"n":6270,"e":12.46},{"n":6300,"e":9.6},{"n":6400,"e":10.9},{"n":6500,"e":8.8},{"n":6600,"e":9.9},{"n":6700,"e":11.2},{"n":6800,"e":7.8},{"n":6900,"e":9.3},{"n":7000,"e":10.4},{"n":7100,"e":8.2},{"n":7200,"e":9.7},{"n":7300,"e":11.6},{"n":7400,"e":8.9},{"n":7500,"e":10},{"n":7600,"e":9.4},{"n":7800,"e":12.6},{"n":7900,"e":8.6},{"n":8000,"e":9.9},{"n":8100,"e":10.6},{"n":8200,"e":9.1},{"n":8300,"e":7.5},{"n":8400,"e":9.6},{"n":8500,"e":10.2},{"n":8600,"e":8.8},{"n":8700,"e":9.4},{"n":8800,"e":11},{"n":8900,"e":8.3},{"n":9000,"e":9.8},{"n":9100,"e":10.5},{"n":9200,"e":9.2},{"n":9300,"e":7.9},{"n":9400,"e":9.5},{"n":9500,"e":10.8},{"n":9600,"e":8.7},{"n":9700,"e":9.3},{"n":9800,"e":10.1},{"n":9900,"e":8.9},
{"n":3100,"e":6.8},{"n":3400,"e":5.8},{"n":3700,"e":6.6},{"n":4000,"e":7.2},{"n":4300,"e":6.5},{"n":4600,"e":7},{"n":5000,"e":7.6},{"n":5400,"e":6.8},{"n":5800,"e":7.3},{"n":6200,"e":7.9},{"n":6600,"e":7.1},{"n":7000,"e":7.6},{"n":7500,"e":8},{"n":8000,"e":7.3},{"n":8500,"e":8.1},{"n":9000,"e":7.6},{"n":9500,"e":8.4},
{"n":10000,"e":9.6},{"n":10200,"e":10.8},{"n":10400,"e":8.4},{"n":10600,"e":9.9},{"n":10800,"e":11.3},{"n":11000,"e":9.1},{"n":11200,"e":10.4},{"n":11400,"e":8.7},{"n":11600,"e":9.8},{"n":11800,"e":10.9},{"n":12000,"e":9.3},{"n":12200,"e":7.6},{"n":12400,"e":10.2},{"n":12600,"e":8.9},{"n":12800,"e":11.6},{"n":13000,"e":9.5},{"n":13300,"e":10.6},{"n":13600,"e":8.2},{"n":13900,"e":9.8},{"n":14200,"e":11.9},{"n":14500,"e":9},{"n":14800,"e":10.3},{"n":15100,"e":7.4},{"n":15400,"e":9.4},{"n":15700,"e":10.8},{"n":16000,"e":8.6},{"n":16400,"e":9.7},{"n":16800,"e":11.1},{"n":17200,"e":8},{"n":17600,"e":9.2},{"n":18000,"e":10.4},{"n":18500,"e":8.7},{"n":19000,"e":9.9},{"n":19500,"e":7.7},{"n":20000,"e":9.1},{"n":20500,"e":10.6},{"n":21000,"e":8.4},{"n":21600,"e":9.5},{"n":22200,"e":7.9},{"n":22800,"e":10.1},{"n":23500,"e":12},{"n":23400,"e":8.8},{"n":24100,"e":9.3},{"n":24800,"e":7.6},{"n":25500,"e":10.4},{"n":26200,"e":8.5},{"n":27000,"e":9},{"n":27800,"e":7.9},{"n":28600,"e":9.6},{"n":29400,"e":8.3},{"n":30200,"e":10.2},{"n":31000,"e":8.8},{"n":32000,"e":7.8},{"n":33000,"e":9.4},{"n":34000,"e":8.6},{"n":35000,"e":10},{"n":36000,"e":9.1},{"n":37000,"e":8.4},{"n":38500,"e":9.7},{"n":40000,"e":8.9},{"n":41500,"e":9.5},{"n":43000,"e":9.2},{"n":45000,"e":9.6},{"n":47000,"e":9.3},{"n":49000,"e":9.8},{"n":52000,"e":9.5},{"n":55600,"e":10.76},{"n":55600,"e":10.6},
{"n":10500,"e":8},{"n":11500,"e":7.8},{"n":12500,"e":8.3},{"n":13500,"e":7.5},{"n":14600,"e":8.1},{"n":15800,"e":7.2},{"n":17000,"e":8.9},{"n":18800,"e":8.1},{"n":20300,"e":7.4},{"n":22000,"e":8.6},{"n":24000,"e":8.1},{"n":26000,"e":9.3},{"n":28000,"e":8.7},{"n":30000,"e":9},{"n":33500,"e":8},{"n":36500,"e":9.3},{"n":39000,"e":8.2},{"n":42000,"e":9.9},{"n":46000,"e":8.8},{"n":48000,"e":10.3},
{"n":11000,"e":11},{"n":12000,"e":11.4},{"n":13000,"e":10.9},{"n":14000,"e":11.3},{"n":15000,"e":10.6},{"n":16000,"e":11.5},{"n":13500,"e":11.8}]
},
"concat": [
{
  "width": 406, "height": 250,
  "title": {"text": "GLO", "dx": 40},
  "data": {"name": "glo"},
  "mark": {"type": "circle"},
  "encoding": {
    "x": {"field": "n", "type": "quantitative", "scale": {"type": "log", "domain": [1, 44700], "nice": false},
      "axis": {"values": [2,3,4,5,6,7,8,9,10,20,30,40,50,60,70,80,90,100,200,300,400,500,600,700,800,900,1000,2000,3000,4000,5000,6000,7000,8000,9000,10000,20000,30000,40000],
        "labelExpr": "datum.value==10?'10':datum.value==100?'10²':datum.value==1000?'10³':datum.value==10000?'10⁴':''",
        "title": "N", "titleX": 425}},
    "y": {"field": "e", "type": "quantitative", "scale": {"domain": [0, 1.031], "nice": false, "zero": false},
      "axis": {"values": [0.05,0.1,0.15,0.2,0.25,0.3,0.35,0.4,0.45,0.5,0.55,0.6,0.65,0.7,0.75,0.8,0.85,0.9,0.95,1],
        "labelExpr": "indexof([0.2,0.4,0.6,0.8,1],datum.value)>=0?replace(format(datum.value,'.1~f'),'.',','):''",
        "title": "⟨ΔE⟩"}}
  }
},
{
  "width": 406, "height": 250,
  "title": {"text": "Ising", "dx": -52},
  "data": {"name": "ising"},
  "mark": {"type": "circle"},
  "encoding": {
    "x": {"field": "n", "type": "quantitative", "scale": {"type": "log", "domain": [1, 32400], "nice": false},
      "axis": {"values": [2,3,4,5,6,7,8,9,10,20,30,40,50,60,70,80,90,100,200,300,400,500,600,700,800,900,1000,2000,3000,4000,5000,6000,7000,8000,9000,10000,20000,30000],
        "labelExpr": "datum.value==10?'10':datum.value==100?'10²':datum.value==1000?'10³':datum.value==10000?'10⁴':''",
        "title": "N", "titleX": 422}},
    "y": {"field": "e", "type": "quantitative", "scale": {"domain": [0, 2.51], "nice": false, "zero": false},
      "axis": {"values": [0.1,0.2,0.3,0.4,0.5,0.6,0.7,0.8,0.9,1,1.1,1.2,1.3,1.4,1.5,1.6,1.7,1.8,1.9,2,2.1,2.2,2.3,2.4,2.5],
        "labelExpr": "indexof([0.5,1,1.5,2,2.5],datum.value)>=0?replace(format(datum.value,'.1~f'),'.',','):''",
        "title": "⟨ΔE⟩"}}
  }
},
{
  "width": 406, "height": 252,
  "title": {"text": "TS₁", "dx": 40, "dy": -14},
  "data": {"name": "ts1"},
  "mark": {"type": "circle"},
  "encoding": {
    "x": {"field": "n", "type": "quantitative", "scale": {"type": "log", "domain": [1, 59700], "nice": false},
      "axis": {"values": [2,3,4,5,6,7,8,9,10,20,30,40,50,60,70,80,90,100,200,300,400,500,600,700,800,900,1000,2000,3000,4000,5000,6000,7000,8000,9000,10000,20000,30000,40000,50000],
        "labelExpr": "datum.value==10?'10':datum.value==100?'10²':datum.value==1000?'10³':datum.value==10000?'10⁴':''",
        "title": "N", "titleX": 424, "titleY": 8}},
    "y": {"field": "e", "type": "quantitative", "scale": {"domain": [0, 5.51], "nice": false, "zero": false},
      "axis": {"values": [0.2,0.4,0.6,0.8,1,1.2,1.4,1.6,1.8,2,2.2,2.4,2.6,2.8,3,3.2,3.4,3.6,3.8,4,4.2,4.4,4.6,4.8,5,5.2,5.4],
        "labelExpr": "indexof([1,2,3,4,5],datum.value)>=0?format(datum.value,'d'):''",
        "title": "⟨ΔE⟩", "titleY": -24}}
  }
},
{
  "width": 406, "height": 252,
  "title": {"text": "TS₂", "dx": -52, "dy": -14},
  "data": {"name": "ts2"},
  "mark": {"type": "circle"},
  "encoding": {
    "x": {"field": "n", "type": "quantitative", "scale": {"type": "log", "domain": [1, 74800], "nice": false},
      "axis": {"values": [2,3,4,5,6,7,8,9,10,20,30,40,50,60,70,80,90,100,200,300,400,500,600,700,800,900,1000,2000,3000,4000,5000,6000,7000,8000,9000,10000,20000,30000,40000,50000,60000,70000],
        "labelExpr": "datum.value==10?'10':datum.value==100?'10²':datum.value==1000?'10³':datum.value==10000?'10⁴':''",
        "title": "N", "titleX": 422, "titleY": 8}},
    "y": {"field": "e", "type": "quantitative", "scale": {"domain": [0, 19.75], "nice": false, "zero": false},
      "axis": {"values": [0.5,1,1.5,2,2.5,3,3.5,4,4.5,5,5.5,6,6.5,7,7.5,8,8.5,9,9.5,10,10.5,11,11.5,12,12.5,13,13.5,14,14.5,15,15.5,16,16.5,17,17.5,18,18.5,19,19.5],
        "labelExpr": "indexof([2.5,5,7.5,10,12.5,15,17.5],datum.value)>=0?replace(format(datum.value,'.1~f'),'.',','):''",
        "title": "⟨ΔE⟩", "titleY": -24}}
  }
}
]
}
